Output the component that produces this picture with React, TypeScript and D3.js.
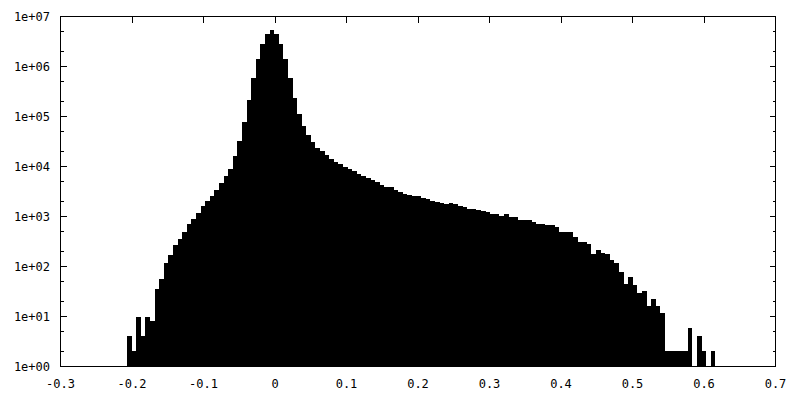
import React from "react";
import * as d3 from "d3";

// Histogram bins (gnuplot-style, log y axis)
const binStart = -0.207;
const binWidth = 0.00643;
const counts: number[] = [
  4, 2, 10, 4, 10, 8, 35, 55, 115, 166,
  275, 347, 501, 724, 912, 1202, 1585, 2089, 2630, 3467,
  4786, 6397, 8995, 15849, 31623, 75858, 208930, 588844, 1412538, 2844461,
  4508167, 5248075, 4400000, 2818383, 1412538, 588844, 239883, 109648, 63973, 41687,
  30620, 23659, 19953, 17378, 14454, 12589, 11117, 10000, 8831, 8054,
  7244, 6397, 5943, 5321, 4853, 4365, 3981, 3855, 3467, 3162,
  2884, 2754, 2630, 2600, 2291, 2188, 2089, 1995, 1845, 1738,
  1845, 1738, 1585, 1514, 1445, 1430, 1380, 1259, 1250, 1148,
  1140, 1047, 1148, 1000, 955, 832, 832, 832, 794, 724,
  724, 661, 661, 603, 479, 479, 479, 398, 302, 302,
  288, 174, 209, 182, 174, 132, 115, 79, 44, 63,
  42, 30, 32, 16, 22, 16, 12, 2, 2, 2,
  2, 2, 6, 0, 4, 2, 0, 2,
];

const xTicks = [-0.3, -0.2, -0.1, 0, 0.1, 0.2, 0.3, 0.4, 0.5, 0.6, 0.7];
const xTickLabels = ["-0.3", "-0.2", "-0.1", "0", "0.1", "0.2", "0.3", "0.4", "0.5", "0.6", "0.7"];
const yTicks = [1, 10, 100, 1e3, 1e4, 1e5, 1e6, 1e7];
const yTickLabels = ["1e+00", "1e+01", "1e+02", "1e+03", "1e+04", "1e+05", "1e+06", "1e+07"];
const yMinorMultipliers = [2, 5];

export default function App() {
  const W = 800, H = 400;
  const left = 60.5, right = 775.5, top = 16.5, bottom = 366.5;
  const x = d3.scaleLinear().domain([-0.3, 0.7]).range([left, right]);
  const y = d3.scaleLog().domain([1, 1e7]).range([bottom, top]);

  const minor: number[] = [];
  yTicks.slice(0, -1).forEach((t) => yMinorMultipliers.forEach((m) => minor.push(t * m)));

  const font = "'DejaVu Sans Mono', 'Liberation Mono', monospace";

  return (
    <svg width={W} height={H} style={{ position: "absolute", left: 0, top: 0, background: "#fff" }}>
      <rect x={0} y={0} width={W} height={H} fill="#fff" />
      <g shapeRendering="crispEdges">
        {counts.map((c, i) => {
          if (c <= 0) return null;
          const x0 = x(binStart + i * binWidth);
          const x1 = x(binStart + (i + 1) * binWidth);
          const yy = y(Math.max(c, 1));
          return <rect key={i} x={x0} y={yy} width={x1 - x0} height={bottom - yy} fill="#000" />;
        })}
      </g>
      <g stroke="#000" strokeWidth={1} shapeRendering="crispEdges" fill="none">
        <rect x={left} y={top} width={right - left} height={bottom - top} />
        {yTicks.map((t, i) => (
          <g key={"yt" + i}>
            <line x1={left} x2={left + 6} y1={y(t)} y2={y(t)} />
            <line x1={right} x2={right - 6} y1={y(t)} y2={y(t)} />
          </g>
        ))}
        {minor.map((t, i) => (
          <g key={"ym" + i}>
            <line x1={left} x2={left + 3} y1={y(t)} y2={y(t)} />
            <line x1={right} x2={right - 3} y1={y(t)} y2={y(t)} />
          </g>
        ))}
        {xTicks.map((t, i) => (
          <g key={"xt" + i}>
            <line x1={x(t)} x2={x(t)} y1={bottom} y2={bottom - 6} />
            <line x1={x(t)} x2={x(t)} y1={top} y2={top + 6} />
          </g>
        ))}
      </g>
      <g fontFamily={font} fontSize={12} fill="#000">
        {yTicks.map((t, i) => (
          <text key={"yl" + i} x={50} y={y(t) + 4} textAnchor="end">
            {yTickLabels[i]}
          </text>
        ))}
        {xTicks.map((t, i) => (
          <text key={"xl" + i} x={x(t)} y={388} textAnchor="middle">
            {xTickLabels[i]}
          </text>
        ))}
      </g>
    </svg>
  );
}
